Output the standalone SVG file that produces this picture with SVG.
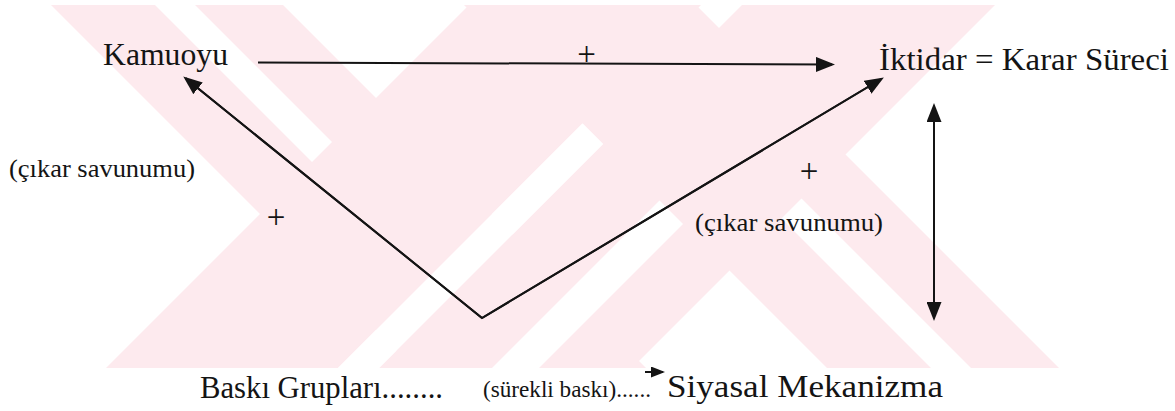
<svg xmlns="http://www.w3.org/2000/svg" width="1175" height="411" viewBox="0 0 1175 411">
<style>
.wm{fill:#fdeaee}
.wh{fill:#ffffff}
.lbl{fill:#141414}
.big{font-size:31px}
.mid{font-size:26px}
.sml{font-size:24px}
.plus{font-size:33px;fill:#141414;text-anchor:middle}
.edge{stroke:#141414;stroke-width:2;fill:none}
</style>
<defs>
<clipPath id="wmclip"><rect x="0" y="5" width="1175" height="363"/></clipPath>
<marker id="ah" markerUnits="userSpaceOnUse" markerWidth="19" markerHeight="15" viewBox="0 0 19 15" refX="16" refY="7.5" orient="auto-start-reverse">
<path d="M0,0 L19,7.5 L0,15 z" fill="#141414"/>
</marker>
<marker id="ahs" markerUnits="userSpaceOnUse" markerWidth="14" markerHeight="11" viewBox="0 0 14 11" refX="12" refY="5.5" orient="auto">
<path d="M0,0 L14,5.5 L0,11 z" fill="#141414"/>
</marker>
</defs>
<rect width="1175" height="411" fill="#ffffff"/>
<g id="watermark" clip-path="url(#wmclip)">
<polygon class="wm" points="46,0 278,0 651,373 419,373"/>
<polygon class="wm" points="474,0 706,0 333,373 101,373"/>
<polygon class="wm" points="459,0 691,0 1064,373 832,373"/>
<polygon class="wm" points="747,0 1000,0 627,373 374,373"/>
<polygon class="wh" points="150,0 190,0 332,142 312,162"/>
<polygon class="wh" points="582.5,123.5 603,144 374,373 333,373"/>
<polygon class="wh" points="659.5,200.5 683,224 534,373 487,373"/>
<polygon class="wh" points="801.5,198.5 976,373 936,373 781.5,218.5"/>
</g>
<g font-family="Liberation Serif, DejaVu Serif, serif">
<g id="kamuoyu"><text class="lbl big" x="103" y="65" textLength="125" lengthAdjust="spacingAndGlyphs">Kamuoyu</text></g>
<g id="iktidar"><text class="lbl big" x="879" y="70" textLength="290" lengthAdjust="spacingAndGlyphs">İktidar = Karar Süreci</text></g>
<g id="cikar-left"><text class="lbl mid" x="9" y="177" textLength="186" lengthAdjust="spacingAndGlyphs">(çıkar savunumu)</text></g>
<g id="cikar-right"><text class="lbl mid" x="695" y="231" textLength="188" lengthAdjust="spacingAndGlyphs">(çıkar savunumu)</text></g>
<g id="plus-top"><text class="plus" x="586.5" y="65">+</text></g>
<g id="plus-left"><text class="plus" x="276" y="228">+</text></g>
<g id="plus-right"><text class="plus" x="809" y="182">+</text></g>
<g id="baski-gruplari"><text class="lbl big" x="200" y="398" textLength="243" lengthAdjust="spacingAndGlyphs">Baskı Grupları........</text></g>
<g id="surekli-baski"><text class="lbl sml" x="483" y="397" textLength="168" lengthAdjust="spacingAndGlyphs">(sürekli baskı)......</text></g>
<g id="siyasal-mekanizma"><text class="lbl big" x="667" y="397" textLength="276" lengthAdjust="spacingAndGlyphs">Siyasal Mekanizma</text></g>
</g>
<g id="connectors">
<line class="edge" x1="258" y1="62.5" x2="832" y2="64.5" marker-end="url(#ah)"/>
<line class="edge" x1="482" y1="318" x2="185.6" y2="78.3" marker-end="url(#ah)"/>
<line class="edge" x1="482" y1="318" x2="881.3" y2="79" marker-end="url(#ah)"/>
<polyline class="edge" points="185.6,78.3 482,318 881.3,79" stroke-linejoin="miter"/>
<line class="edge" x1="934" y1="106" x2="934" y2="318" marker-start="url(#ah)" marker-end="url(#ah)"/>
<line class="edge" x1="645" y1="372" x2="663" y2="372" stroke-width="1.5" marker-end="url(#ahs)"/>
</g>
</svg>
